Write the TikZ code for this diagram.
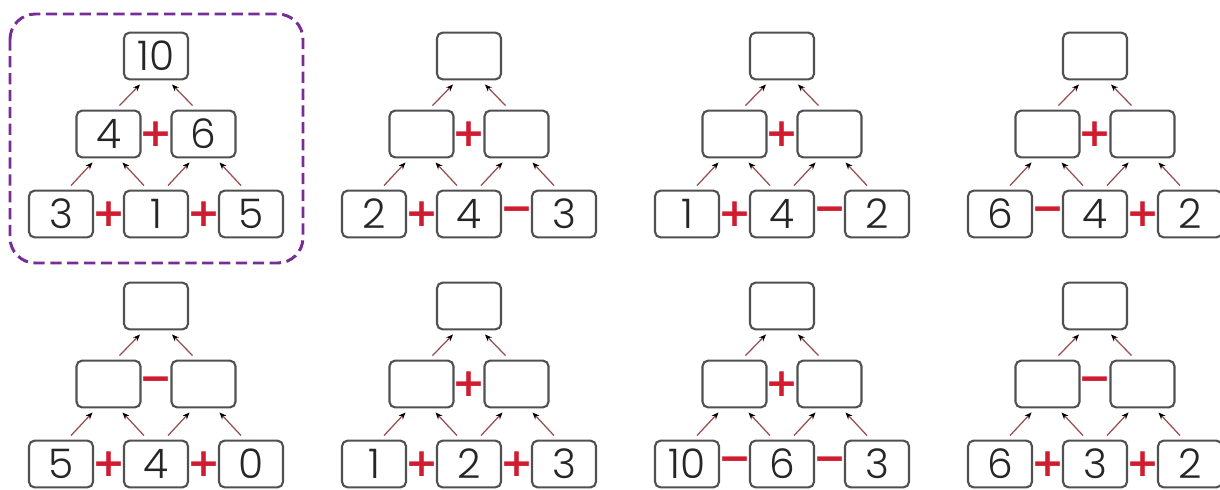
\documentclass[tikz,border=0pt]{standalone}
\usepackage{fontspec}
\setmainfont{Poppins}[UprightFont=* Light]
\newfontfamily\opfont{DejaVu Sans}
\usetikzlibrary{arrows.meta, calc}
\definecolor{frameviolet}{RGB}{118,45,150}
\definecolor{opred}{RGB}{208,28,48}
\definecolor{arrowbrown}{RGB}{150,80,80}
\definecolor{boxgray}{RGB}{80,80,80}

\tikzset{
  numbox/.style={draw=boxgray, fill=white, line width=1.5pt, rounded corners=4pt,
    minimum width=1.6cm, minimum height=1.17cm, inner sep=0pt,
    font=\fontsize{29}{30}\selectfont, text=black!85},
  opsign/.style={text=opred, inner sep=0pt,
    font=\opfont\bfseries\fontsize{28}{28}\selectfont},
  uparrow/.style={arrowbrown, line width=0.9pt,
    -{Stealth[black, length=5pt, width=4pt]}},
}

\begin{document}
\begin{tikzpicture}[x=0.025cm, y=-0.025cm]
    \useasboundingbox (0,0) rectangle (1220,489);
    % Worked example frame
    \draw[frameviolet, line width=2.1pt, dash pattern=on 8pt off 4pt, rounded corners=18pt]
        (10,14) rectangle (303,263);

    % Pyramids: centre x / top y / bottom row / signs / middle row / top
    \foreach \cx/\cy/\a/\b/\c/\opa/\opb/\opm/\l/\r/\t [count=\i] in {
        156/56/3/1/5/+/+/+/4/6/10,
        469/56/2/4/3/+/−/+/{}/{}/{},
        782/56/1/4/2/+/−/+/{}/{}/{},
        1095/56/6/4/2/−/+/+/{}/{}/{},
        156/306/5/4/0/+/+/−/{}/{}/{},
        469/306/1/2/3/+/+/+/{}/{}/{},
        782/306/10/6/3/−/−/+/{}/{}/{},
        1095/306/6/3/2/+/+/−/{}/{}/{}} {
        % Boxes
        \node[numbox] (t\i) at (\cx,\cy) {\t};
        \node[numbox] (l\i) at (\cx-47.5,\cy+78) {\l};
        \node[numbox] (r\i) at (\cx+47.5,\cy+78) {\r};
        \node[numbox] (a\i) at (\cx-95,\cy+158) {\a};
        \node[numbox] (b\i) at (\cx,\cy+158) {\b};
        \node[numbox] (c\i) at (\cx+95,\cy+158) {\c};
        % Signs
        \node[opsign] (pm\i) at ($(l\i)!0.5!(r\i)$) {\opm};
        \node[opsign] (pa\i) at ($(a\i)!0.5!(b\i)$) {\opa};
        \node[opsign] (pb\i) at ($(b\i)!0.5!(c\i)$) {\opb};
        % Arrows up the pyramid
        \draw[uparrow] ($(a\i.north)+(10,-4)$) -- ($(l\i.south)+(-16,4)$);
        \draw[uparrow] ($(b\i.north)+(-12,-4)$) -- ($(l\i.south)+(14,4)$);
        \draw[uparrow] ($(b\i.north)+(12,-4)$) -- ($(r\i.south)+(-14,4)$);
        \draw[uparrow] ($(c\i.north)+(-10,-4)$) -- ($(r\i.south)+(16,4)$);
        \draw[uparrow] ($(l\i.north)+(11,-4)$) -- ($(t\i.south)+(-16,4)$);
        \draw[uparrow] ($(r\i.north)+(-11,-4)$) -- ($(t\i.south)+(16,4)$);
    }
\end{tikzpicture}
\end{document}
